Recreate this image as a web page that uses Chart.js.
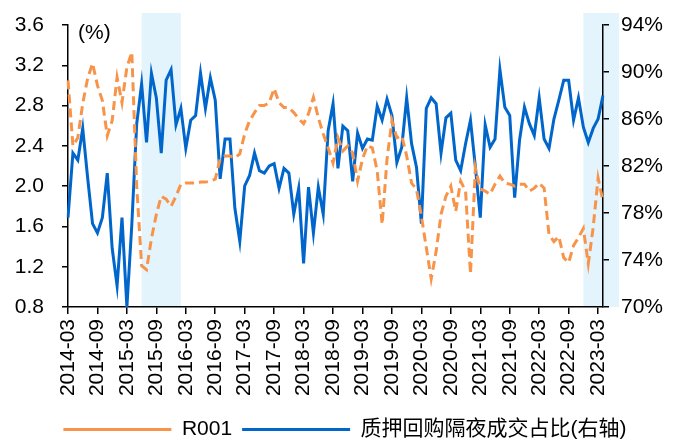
<!DOCTYPE html>
<html>
<head>
<meta charset="utf-8">
<script src="https://cdn.jsdelivr.net/npm/chart.js@4.4.0/dist/chart.umd.min.js"></script>
<style>
  body { margin: 0; background: #fff; }
</style>
</head>
<body>
<canvas id="chart" width="681" height="443"></canvas>
<script>
// monthly categories 2014-03 .. 2023-04
const months = [];
for (let y = 2014; y <= 2023; y++) {
  for (let m = 1; m <= 12; m++) {
    if ((y === 2014 && m < 3) || (y === 2023 && m > 4)) continue;
    months.push(y + '-' + String(m).padStart(2, '0'));
  }
}

// R001, %
const r001 = [
  3.05, 2.40, 2.48, 2.82, 3.07, 3.22, 3.00, 2.85, 2.50, 2.65,
  3.08, 2.83, 3.18, 3.33, 2.00, 1.21, 1.17, 1.48, 1.72, 1.90,
  1.87, 1.80, 1.90, 2.02, 2.03, 2.03, 2.03, 2.04, 2.04, 2.05,
  2.07, 2.27, 2.30, 2.30, 2.28, 2.32, 2.52, 2.65, 2.73, 2.80,
  2.80, 2.83, 2.97, 2.83, 2.78, 2.78, 2.73, 2.67, 2.62, 2.72,
  2.88, 2.68, 2.52, 2.38, 2.23, 2.48, 2.35, 2.40, 2.33, 2.05,
  2.27, 2.40, 2.38, 2.15, 1.62, 2.27, 2.65, 2.48, 2.50, 2.30,
  2.03, 1.97, 1.70, 1.39, 1.08, 1.35, 1.72, 1.90, 2.00, 1.75,
  2.05, 1.95, 1.13, 2.18, 1.97, 1.95, 1.92, 2.02, 2.10, 2.03,
  2.02, 2.00, 2.02, 2.02, 1.95, 1.98, 2.03, 1.98, 1.52, 1.45,
  1.50, 1.29, 1.24, 1.41, 1.49, 1.58, 1.23, 1.59, 2.08, 1.85
];

// 质押回购隔夜成交占比, % (right axis)
const overnightShare = [
  77.6, 83.1, 82.5, 85.2, 81.0, 77.1, 76.3, 77.6, 81.4, 75.0,
  71.8, 77.6, 70.0, 77.0, 85.6, 89.0, 84.0, 89.9, 87.8, 83.1,
  89.3, 90.2, 85.5, 86.9, 83.5, 85.9, 86.3, 89.9, 86.9, 89.5,
  87.6, 80.9, 84.3, 84.3, 78.4, 75.6, 80.3, 81.2, 83.1, 81.6,
  81.4, 82.0, 82.2, 80.1, 81.8, 81.4, 77.9, 80.1, 73.7, 80.2,
  76.3, 80.2, 77.9, 85.0, 87.3, 81.8, 85.4, 85.0, 80.7, 84.8,
  83.5, 84.3, 84.2, 87.1, 85.9, 87.7, 86.3, 82.3, 83.6, 87.8,
  83.9, 81.9, 77.1, 86.9, 87.8, 87.3, 83.1, 86.1, 86.5, 82.5,
  81.6, 83.9, 85.9, 81.9, 77.6, 85.5, 83.6, 84.3, 90.2, 87.0,
  86.3, 79.3, 84.2, 87.0, 85.6, 84.6, 87.8, 84.3, 83.5, 86.0,
  87.6, 89.3, 89.3, 85.9, 87.8, 85.3, 84.0, 85.2, 86.0, 88.0
];

// highlighted periods (null end = runs past the last month)
const shadedPeriods = [
  ['2015-06', '2016-02'],
  ['2022-12', null]
];

const FONT = "'Liberation Sans', Arial, 'Noto Sans CJK SC', sans-serif";

const shadePlugin = {
  id: 'shade',
  beforeDraw(chart) {
    const { ctx, chartArea, scales: { x } } = chart;
    ctx.save();
    ctx.fillStyle = '#e3f4fc';
    shadedPeriods.forEach(([from, to]) => {
      const x0 = x.getPixelForValue(months.indexOf(from));
      const x1 = to ? x.getPixelForValue(months.indexOf(to)) : chartArea.right + 16;
      ctx.fillRect(x0, chartArea.top - 12, x1 - x0, chartArea.bottom - chartArea.top + 12);
    });
    ctx.restore();
  },
  afterDraw(chart) {
    const { ctx, chartArea } = chart;
    ctx.save();
    ctx.font = '21px ' + FONT;
    ctx.fillStyle = '#000';
    ctx.textBaseline = 'middle';
    ctx.fillText('(%)', chartArea.left + 10, chartArea.top + 8);
    ctx.restore();
  }
};

const axisLine = { display: true, color: '#000', width: 1.5 };
const tickMarks = { drawOnChartArea: false, color: '#000', lineWidth: 1.5, tickLength: 6 };

// fixed width for a y axis, without the extra top/bottom room the label padding asks for
const fixWidth = (w) => (scale) => {
  scale.width = w;
  scale.paddingTop = 0;
  scale.paddingBottom = 0;
};

new Chart(document.getElementById('chart').getContext('2d'), {
  type: 'line',
  data: {
    labels: months,
    datasets: [
      {
        label: 'R001',
        data: r001,
        yAxisID: 'y',
        borderColor: '#f7944a',
        backgroundColor: '#f7944a',
        borderWidth: 3,
        borderDash: [9, 5],
        pointRadius: 0,
        tension: 0
      },
      {
        label: '质押回购隔夜成交占比(右轴)',
        data: overnightShare,
        yAxisID: 'y2',
        borderColor: '#0066cc',
        backgroundColor: '#0066cc',
        borderWidth: 3,
        pointRadius: 0,
        tension: 0
      }
    ]
  },
  options: {
    responsive: false,
    animation: false,
    layout: { padding: { top: 25, left: 9, right: 0, bottom: -7 } },
    plugins: {
      tooltip: { enabled: false },
      legend: {
        position: 'bottom',
        labels: {
          usePointStyle: true,
          pointStyle: 'line',
          pointStyleWidth: 108,
          padding: 10,
          color: '#000',
          font: { size: 21, family: FONT }
        }
      }
    },
    scales: {
      x: {
        border: axisLine,
        grid: { ...tickMarks, tickLength: 7 },
        afterFit: (scale) => { scale.height = 102; },
        ticks: {
          autoSkip: false,
          minRotation: 90,
          maxRotation: 90,
          padding: 5,
          color: '#000',
          font: { size: 21, family: FONT },
          callback: (v, i) => (i % 6 === 0 ? months[i] : null)
        }
      },
      y: {
        position: 'left',
        min: 0.8,
        max: 3.6,
        border: axisLine,
        grid: tickMarks,
        afterFit: fixWidth(59),
        ticks: {
          stepSize: 0.4,
          padding: 18,
          color: '#000',
          font: { size: 21, family: FONT },
          callback: (v) => v.toFixed(1)
        }
      },
      y2: {
        position: 'right',
        min: 70,
        max: 94,
        border: axisLine,
        grid: tickMarks,
        afterFit: fixWidth(78),
        ticks: {
          stepSize: 4,
          padding: 12,
          color: '#000',
          font: { size: 21, family: FONT },
          callback: (v) => v + '%'
        }
      }
    }
  },
  plugins: [shadePlugin]
});
</script>
</body>
</html>
